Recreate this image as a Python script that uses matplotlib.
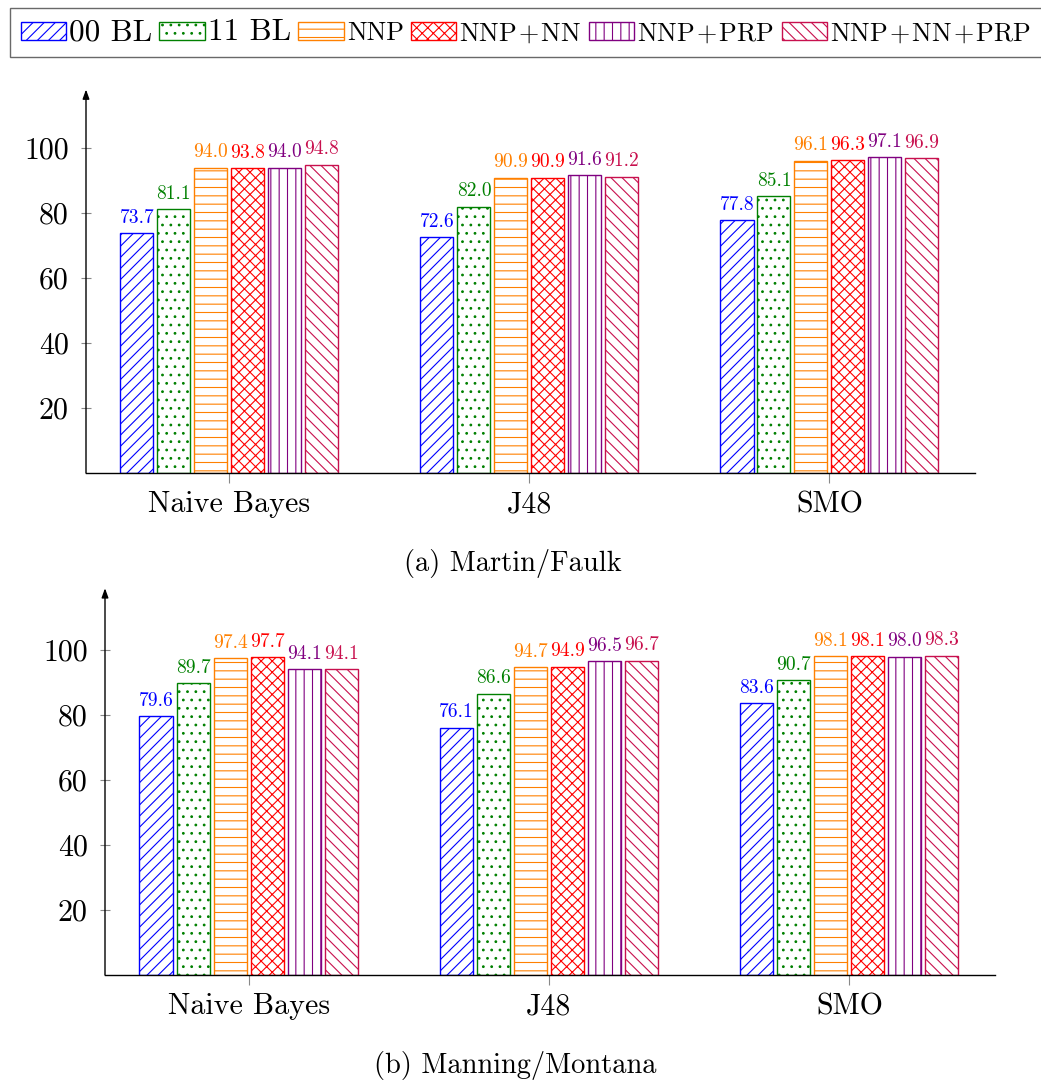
import matplotlib
matplotlib.use("Agg")
import matplotlib.pyplot as plt
import numpy as np

plt.rcParams['font.family'] = 'serif'
plt.rcParams['font.serif'] = ['cmr10']
plt.rcParams['mathtext.fontset'] = 'cm'
plt.rcParams['axes.formatter.use_mathtext'] = True
plt.rcParams['hatch.linewidth'] = 0.8

classifiers = ["Naive Bayes", "J48", "SMO"]
series = ["00 BL", "11 BL", "NNP", "NNP+NN", "NNP+PRP", "NNP+NN+PRP"]

martin_faulk = [
    [73.7, 72.6, 77.8],
    [81.1, 82.0, 85.1],
    [94.0, 90.9, 96.1],
    [93.8, 90.9, 96.3],
    [94.0, 91.6, 97.1],
    [94.8, 91.2, 96.9],
]
manning_montana = [
    [79.6, 76.1, 83.6],
    [89.7, 86.6, 90.7],
    [97.4, 94.7, 98.1],
    [97.7, 94.9, 98.1],
    [94.1, 96.5, 98.0],
    [94.1, 96.7, 98.3],
]
yticks = [20, 40, 60, 80, 100]

colors = ["#0000FF", "#008000", "#FF8000", "#FF0000", "#800080", "#C8104E"]
hatches = ["///", "..", "--", "xxx", "||", "\\\\\\"]

W, H = 1041, 1081
fig = plt.figure(figsize=(W / 100, H / 100), dpi=100)


def px_axes(left, right, bottom, top):
    return fig.add_axes([left / W, 1 - bottom / H, (right - left) / W, (bottom - top) / H])


def panel(ax, data, ytop):
    x = np.arange(len(classifiers))
    width = 0.11
    pitch = 0.1233
    handles = []
    for i, (vals, c, h, name) in enumerate(zip(data, colors, hatches, series)):
        pos = x + (i - 2.5) * pitch
        b = ax.bar(pos, vals, width, facecolor="white", edgecolor=c, hatch=h,
                   linewidth=1.0, label=name)
        handles.append(b)
        for px, v in zip(pos, vals):
            ax.text(px, v + 2.0, f"{v:.1f}", color=c, ha="center", va="bottom",
                    fontsize=14)
    ax.set_xlim(-0.478, 2.485)
    ax.set_ylim(0, ytop)
    ax.set_xticks(x)
    ax.set_xticklabels(classifiers, fontsize=21.5)
    ax.set_yticks(yticks)
    ax.set_yticklabels([str(t) for t in yticks], fontsize=21.5)
    ax.tick_params(axis="x", direction="out", length=7, width=0.8, color="#888888", pad=6)
    ax.tick_params(axis="y", direction="inout", length=7, width=0.8, color="#888888", pad=9)
    for s in ("top", "right", "left"):
        ax.spines[s].set_visible(False)
    ax.spines["bottom"].set_color("black")
    ax.spines["bottom"].set_linewidth(1.0)
    ax.annotate("", xy=(0, 1), xytext=(0, 0), xycoords="axes fraction",
                arrowprops=dict(arrowstyle="-|>,head_length=0.55,head_width=0.2",
                                lw=1.0, color="black", shrinkA=0, shrinkB=0))
    return handles


ax1 = px_axes(86, 975, 473, 473 - 118 * 3.25)
handles = panel(ax1, martin_faulk, 118)
ax2 = px_axes(105, 995, 975, 975 - 119 * 3.25)
panel(ax2, manning_montana, 119)

fig.text(513 / W, 1 - 564 / H, "(a) Martin/Faulk", ha="center", va="center", fontsize=20.5)
fig.text(515 / W, 1 - 1066 / H, "(b) Manning/Montana", ha="center", va="center", fontsize=20.5)

# legend labels: binary-operator spacing around the plus signs
legend_labels = [s.replace("+", "$\\hspace{0.1}$+$\\hspace{0.1}$") for s in series]
leg = fig.legend(handles, legend_labels, loc="upper left", bbox_to_anchor=(10 / W, 1 - 8 / H),
                 ncol=6, fontsize=19, frameon=True, fancybox=False,
                 handlelength=1.72, handleheight=0.64, handletextpad=0.11,
                 columnspacing=0.28, borderpad=0.4, borderaxespad=0)
leg.get_frame().set_edgecolor("#444444")
leg.get_frame().set_linewidth(1.0)
for t, name in zip(leg.get_texts(), series):
    t.set_fontsize(22.5 if "BL" in name else 18.8)

fig.savefig("out.png", dpi=100)
